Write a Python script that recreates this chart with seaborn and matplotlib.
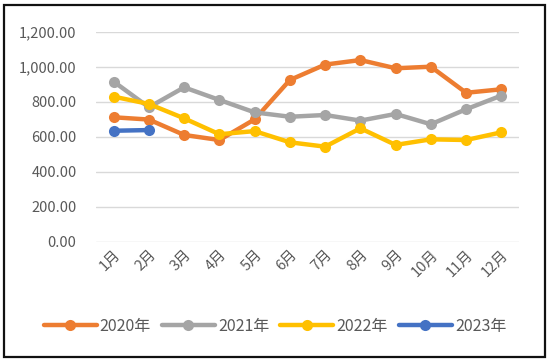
import pandas as pd
import matplotlib.pyplot as plt
import seaborn as sns
from matplotlib.patches import Rectangle

# 数据
months = ['1月', '2月', '3月', '4月', '5月', '6月', '7月', '8月', '9月', '10月', '11月', '12月']
v2020 = [711, 698, 610, 581, 699, 924, 1012, 1038, 991, 1000, 851, 871]
v2021 = [915, 768, 882, 810, 739, 714, 724, 692, 730, 671, 757, 835]
v2022 = [829, 787, 705, 614, 632, 568, 543, 648, 553, 585, 581, 625]
v2023 = [634, 638]
years = ['2020年', '2021年', '2022年', '2023年']
colors = ['#ED7D31', '#A5A5A5', '#FFC000', '#4472C4']

rows = []
for y, vals in zip(years, [v2020, v2021, v2022, v2023]):
    for m, v in zip(months, vals):
        rows.append({'month': m, 'value': v, 'year': y})
df = pd.DataFrame(rows)

sns.set_style('white')
plt.rcParams['font.family'] = ['Noto Sans CJK SC', 'DejaVu Sans']

fig = plt.figure(figsize=(5.5, 3.61), dpi=100)
ax = fig.add_axes([96 / 550, 1 - 241.7 / 361, 423 / 550, 210 / 361])

sns.lineplot(data=df, x='month', y='value', hue='year', hue_order=years,
             palette=colors, marker='o', markersize=8, markeredgewidth=0,
             linewidth=3.2, sort=False, ax=ax, legend=True)

ax.set_xlim(-0.5, 11.5)
ax.set_ylim(0, 1200)
ax.set_yticks(range(0, 1201, 200))
ax.set_yticklabels([f'{v:,.2f}' for v in range(0, 1201, 200)])
ax.yaxis.grid(True, color='#D9D9D9', linewidth=1)
ax.set_axisbelow(True)
for s in ax.spines.values():
    s.set_visible(False)
ax.set_xlabel('')
ax.set_ylabel('')
ax.tick_params(axis='both', length=0, colors='#595959', labelsize=10.5)
ax.tick_params(axis='y', pad=14)
ax.set_xticks(range(len(months)))
ax.set_xticklabels(months, rotation=45, ha='right', rotation_mode='anchor')
ax.tick_params(axis='x', pad=4)

leg = ax.legend(loc='center', bbox_to_anchor=(0.5, 1 - 326 / 361), bbox_transform=fig.transFigure,
                ncol=4, frameon=False, fontsize=11.5, handlelength=3.3, handletextpad=0.2,
                columnspacing=0.7, labelcolor='#595959')

fig.patches.append(Rectangle((4 / 550, 4 / 361), 541 / 550, 352 / 361, transform=fig.transFigure,
                             fill=False, edgecolor='#111111', linewidth=1.6))

plt.savefig('out.png', dpi=100)
